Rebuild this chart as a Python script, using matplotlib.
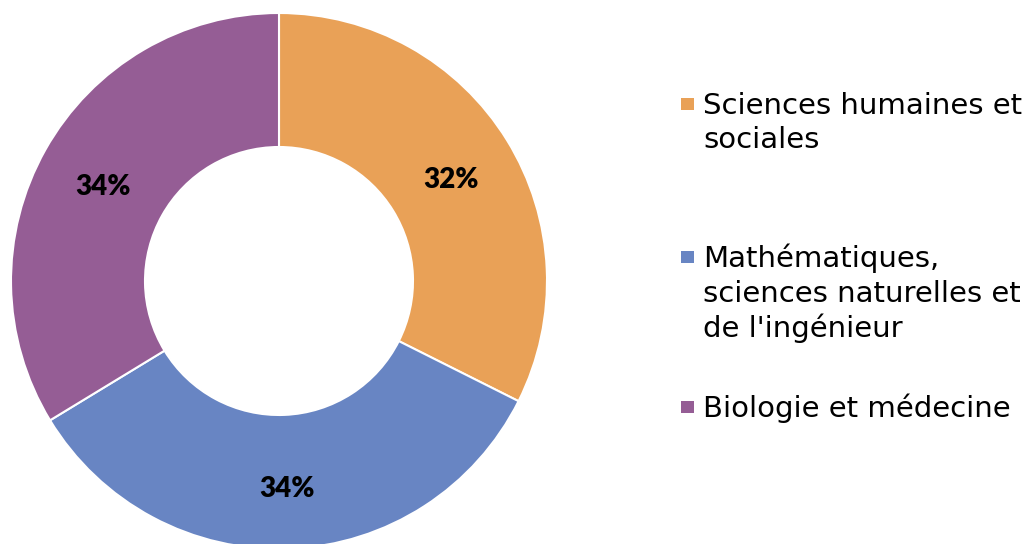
import matplotlib.pyplot as plt
from matplotlib.patches import Rectangle

categories = ["Sciences humaines et\nsociales",
              "Mathématiques,\nsciences naturelles et\nde l'ingénieur",
              "Biologie et médecine"]
shares = [32.4, 33.9, 33.7]
colors = ["#E9A157", "#6885C3", "#955D95"]

W, H = 1026, 544
fig = plt.figure(figsize=(W / 100, H / 100), dpi=100)

# donut: centre (279, 281) px, radius 268 px
cx, cy, r = 279, 281, 268
ax = fig.add_axes([(cx - r) / W, (H - cy - r) / H, 2 * r / W, 2 * r / H])
wedges, texts, autotexts = ax.pie(
    shares, colors=colors, startangle=90, counterclock=False, radius=1,
    autopct="%.0f%%", pctdistance=0.755,
    wedgeprops=dict(width=0.5, edgecolor="white", linewidth=1.5),
    textprops=dict(fontsize=20, fontweight="heavy", family=["Lato", "DejaVu Sans"]))
for t in autotexts:
    t.set_va("center_baseline")
    x, y = t.get_position()
    t.set_position((x, y - 3 / r))
ax.set_xlim(-1, 1)
ax.set_ylim(-1, 1)
ax.set_aspect("equal")
ax.axis("off")

# legend drawn by hand to match the reference spacing
baselines = [113.5, 266.7, 416.7]
line_gap = 35
for label, col, b in zip(categories, colors, baselines):
    for i, line in enumerate(label.split("\n")):
        fig.text(703 / W, 1 - (b + i * line_gap) / H, line, fontsize=21,
                 family="DejaVu Sans", va="baseline", ha="left", color="black")
    sq = 12.5
    fig.patches.append(Rectangle((681 / W, 1 - (b - 9.5 + sq / 2) / H), sq / W, sq / H,
                                 transform=fig.transFigure, facecolor=col,
                                 edgecolor="none"))

fig.savefig("out.png", dpi=100)
